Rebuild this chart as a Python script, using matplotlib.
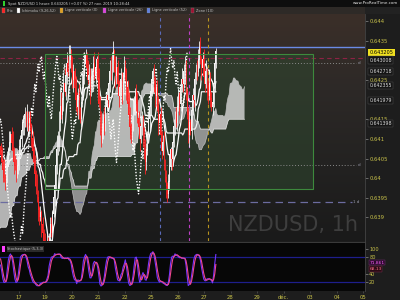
import numpy as np
import matplotlib
matplotlib.use('Agg')
import matplotlib.pyplot as plt
import matplotlib.transforms as mtransforms
from matplotlib.patches import Rectangle
from matplotlib.colors import LinearSegmentedColormap
from matplotlib import font_manager

# ---------------- data (prices in pips above 0.6400) ----------------
BASE = 0.6400
PIP = 0.0001

pre_close = [-30, -28, -32, -34, -31, -33, -35, -32, -29, -31,
             -27, -24, -26, -22, -19, -21, -17, -14, -16, -12,
             -9, -11, -8, -10, -7, -5, -8, -6, -3, -5,
             -2, -4, -1, 1, -1, 2, 4, 1, 3, 5,
             7, 4, 2, 5, 8, 6, 3, 1, 4, 6,
             9, 7, 10, 8, 5, 3, 6, 9, 11, 8,
             6, 9, 12, 10, 7, 5, 8, 6, 3, 5,
             7, 4, 2, 5, 7, 9, 6, 8]

close = [6, 4, 2, 0, -1,
         2, 5, 7, 9, 11,
         9, 7, 4, 3, 1,
         3, 5, 8, 10, 12, 14, 15, 16,
         15, 16, 14, 15, 13, 10, 7, 4, 1, -2,
         -5, -8, -10, -9, -12, -14, -16, -18, -20,
         -17, -19, -15, -12, -14, -9, -5, -2, 3, 7, 10, 14, 18, 16, 20, 24, 22, 26, 29, 27, 30, 31,
         28, 25, 27, 23, 20, 18, 21, 17, 15,
         19, 23, 26, 29, 31,
         28, 25, 26, 22,
         24, 27, 29, 26, 28, 30,
         25, 19, 14, 10,
         12, 15, 14, 18, 21, 20, 24, 27, 26, 30, 32,
         29, 26, 28, 24, 21, 23, 25, 22, 26, 28, 27,
         23, 19, 16, 13, 11,
         14, 17, 19, 22,
         19, 15, 13, 10,
         13, 15,
         11, 7, 4,
         7, 11, 15, 18, 22, 25, 27,
         24, 21, 23, 18, 14, 16, 11, 7, 9, 4, 0, -2, -4,
         -1, 3, 7, 5, 9, 13, 16, 14, 18, 21, 19, 23, 25, 24, 27, 28,
         22, 16, 11, 14, 12,
         17, 21, 20, 25, 28, 27, 30, 33,
         30, 28, 30, 26, 24, 27, 23, 21, 24, 20, 18, 19,
         24, 29, 32.1]

upper_wick = [1, 2, 1, 3, 1, 2, 2, 1, 3, 1,
              2, 3, 1, 2, 2, 4, 1, 2, 1, 3,
              2, 1, 2, 1, 3, 1, 2, 2, 1, 2,
              1, 2, 1, 3, 2, 1, 2, 1, 2, 1,
              2, 1, 3, 2, 1, 2, 2, 1, 3, 2,
              3, 4, 2, 3, 5, 4, 2, 3, 4, 2,
              3, 2, 4, 3, 2, 3, 2, 1, 3, 2,
              2, 3, 1, 2, 4, 2, 3, 2, 1, 2,
              3, 2, 4, 1, 2, 3, 2, 1, 2, 3,
              2, 3, 2, 1, 3, 2, 2, 3, 2, 3,
              4, 2, 3, 1, 2, 3, 2, 1, 2, 3,
              2, 1, 3, 2, 1, 2, 3, 2, 1, 2,
              3, 2, 1, 2, 3, 2, 1, 3, 2, 1,
              2, 3, 2, 1, 2, 3, 1, 2, 1, 2,
              2, 1, 2, 3, 1, 2, 1, 2, 3, 1,
              2, 1, 2, 3, 1, 2, 3, 2, 1, 2,
              3, 2, 1, 2, 3, 1, 2, 3, 2, 1,
              2, 3, 1, 2, 2, 3, 2, 1, 2, 3,
              2, 3, 1, 2, 3, 2, 3, 1, 2, 2,
              3, 2, 3, 2, 1, 1]

lower_wick = [2, 1, 3, 1, 2, 1, 3, 2, 1, 2,
              1, 2, 3, 1, 2, 1, 2, 3, 1, 2,
              1, 3, 2, 2, 3, 2, 3, 1, 2, 3,
              2, 3, 2, 1, 3, 2, 1, 3, 2, 3,
              2, 3, 2, 1, 3, 2, 1, 2, 1, 2,
              1, 2, 1, 3, 2, 1, 2, 3, 1, 2,
              2, 1, 3, 2, 1, 2, 3, 2, 3, 2,
              3, 2, 1, 2, 1, 3, 2, 1, 2, 1,
              2, 3, 1, 2, 3, 1, 2, 3, 2, 1,
              3, 2, 1, 2, 3, 2, 1, 2, 1, 2,
              1, 2, 3, 2, 3, 2, 1, 3, 2, 1,
              3, 2, 1, 2, 3, 1, 2, 3, 2, 1,
              2, 1, 3, 2, 1, 2, 3, 1, 2, 3,
              2, 3, 2, 1, 2, 3, 2, 1, 3, 2,
              3, 2, 1, 3, 2, 3, 2, 1, 2, 1,
              3, 2, 1, 2, 1, 3, 2, 1, 2, 1,
              2, 1, 3, 2, 1, 2, 1, 3, 2, 1,
              2, 3, 1, 2, 1, 2, 3, 1, 2, 1,
              2, 1, 3, 2, 1, 2, 1, 3, 2, 1,
              2, 1, 2, 1, 2, 1]

day_labels = ['17', '19', '20', '21', '22', '25', '26', '27', '28', '29',
              'déc.', '03', '04', '05']
first_day_bar = 16.3
bars_per_day = 24

price_ticks = [0.639, 0.6395, 0.64, 0.6405, 0.641, 0.6415, 0.6425, 0.6435, 0.644]
price_tick_labels = ['0.639', '0.6395', '0.64', '0.6405', '0.641', '0.6415',
                     '0.6425', '0.6435', '0.644']
current_price = 0.643205
value_boxes = [0.643008, 0.642718, 0.642355, 0.641979, 0.641398]

stoch_ticks = [20, 40, 80, 100]
stoch_boxes = [71.861, 68.13]

blue_line = 0.64334
red_dash_line = 0.64306
grey_dot_lines = [0.64293, 0.64033]
blue_dash_line = 0.63939
zone_bars = (40.0, 282.6)
zone_prices = (0.63972, 0.64316)
vline_bars = [144, 171, 187.5]

header_title = 'Spot NZD/USD 1 heure 0.643205 (+0.07 %) 27 nov. 2019 10:28:44'
legend_names = ['Prix', 'Ichimoku (9,26,52)', 'Ligne verticale (X)', 'Ligne verticale (26)',
                'Ligne verticale (52)', 'Zone (1X)']

# ---------------- fonts ----------------
def has_font(name):
    try:
        font_manager.findfont(name, fallback_to_default=False)
        return True
    except Exception:
        return False

NARROW = has_font('Liberation Sans Narrow')
small_family = ['Liberation Sans Narrow', 'DejaVu Sans'] if NARROW else ['DejaVu Sans']
small_scale = 1.0 if NARROW else 0.8
wm_family = ['Liberation Sans Narrow'] if NARROW else ['DejaVu Sans']
wm_size = 19 if NARROW else 15

# ---------------- derived series ----------------
allc = np.array(pre_close + close, dtype=float)
n_pre = len(pre_close)
allo = np.concatenate([[allc[0]], allc[:-1]])
uw = np.concatenate([np.zeros(n_pre), np.array(upper_wick, float)])
lw_ = np.concatenate([np.zeros(n_pre), np.array(lower_wick, float)])
allh = np.maximum(allo, allc) + uw
alll = np.minimum(allo, allc) - lw_
idx = np.arange(len(allc)) - n_pre


def p(v):
    return BASE + np.asarray(v) * PIP


def roll_mid(h, l, n):
    out = np.full(len(h), np.nan)
    for k in range(n - 1, len(h)):
        out[k] = (h[k - n + 1:k + 1].max() + l[k - n + 1:k + 1].min()) / 2
    return out


tenkan = roll_mid(allh, alll, 9)
kijun = roll_mid(allh, alll, 26)
spanA = (tenkan + kijun) / 2
spanB = roll_mid(allh, alll, 52)
shift_idx = idx + 26

K_raw = np.full(len(allc), np.nan)
for k in range(4, len(allc)):
    hh = allh[k - 4:k + 1].max(); ll = alll[k - 4:k + 1].min()
    K_raw[k] = 100 * (allc[k] - ll) / (hh - ll) if hh > ll else 50


def sma(a, n):
    out = np.full(len(a), np.nan)
    for k in range(n - 1, len(a)):
        out[k] = np.mean(a[k - n + 1:k + 1])
    return out


K = sma(K_raw, 3)
D = sma(K, 3)

# ---------------- figure ----------------
W, H = 400, 300
fig = plt.figure(figsize=(4, 3), dpi=100, facecolor='#1d1d1d')


def fy(px):
    return 1 - px / H


fig.patches.append(Rectangle((0, fy(7)), 1, 7 / H, transform=fig.transFigure,
                             facecolor='#0e0e0e', edgecolor='none', zorder=0))
fig.patches.append(Rectangle((0, fy(14)), 1, 7 / H, transform=fig.transFigure,
                             facecolor='#2e2a27', edgecolor='none', zorder=0))
fig.patches.append(Rectangle((365 / W, fy(14)), 35 / W, 7 / H, transform=fig.transFigure,
                             facecolor='#222222', edgecolor='none', zorder=0))
fig.patches.append(Rectangle((3 / W, fy(6)), 2 / W, 5 / H, transform=fig.transFigure,
                             facecolor='#30d030', edgecolor='none', zorder=1))
fig.text(8 / W, fy(3.5), header_title, fontsize=3.3 * small_scale, family=small_family,
         color='#d4d4d4', va='center', ha='left')
fig.text(398 / W, fy(3.5), 'www.ProRealTime.com', fontsize=3.6 * small_scale,
         family=small_family, color='#e6e6e6', va='center', ha='right')

legend_cols = ['#ff2020', '#ffffff', '#e0a020', '#e040e0', '#6080e0', '#a01030']
legend_x = [2, 17, 60, 103, 147, 191]
for txt, col, x0 in zip(legend_names, legend_cols, legend_x):
    fig.patches.append(Rectangle((x0 / W, fy(13)), 3 / W, 5 / H, transform=fig.transFigure,
                                 facecolor=col, edgecolor='#888888', linewidth=0.2, zorder=1))
    fig.text((x0 + 5) / W, fy(10.5), txt, fontsize=3.2 * small_scale, family=small_family,
             color='#c4c4c4', va='center', ha='left')

# ---------------- main axes ----------------
ax = fig.add_axes([0, fy(241), 365 / W, (241 - 14) / H])
x_left, x_right = -0.5, 330.1
ylo, yhi = 0.63840, 0.64418
ax.set_xlim(x_left, x_right)
ax.set_ylim(ylo, yhi)

grad = np.linspace(0, 1, 256)[:, None]
bg_cmap = LinearSegmentedColormap.from_list('bg', ['#1a1a1a', '#232221', '#2d2927', '#3b2f29'])
ax.imshow(grad, extent=[x_left, x_right, ylo, yhi], origin='lower', aspect='auto',
          cmap=bg_cmap, zorder=0)

ax.add_patch(Rectangle((zone_bars[0], zone_prices[0]), zone_bars[1] - zone_bars[0],
                       zone_prices[1] - zone_prices[0], facecolor='#2f4a2f', alpha=0.5,
                       edgecolor='none', zorder=1))
ax.add_patch(Rectangle((zone_bars[0], zone_prices[0]), zone_bars[1] - zone_bars[0],
                       zone_prices[1] - zone_prices[0], facecolor='none',
                       edgecolor='#3d8a3d', linewidth=0.8, zorder=6))

ax.text(358 / 365, (241 - 231) / 227, 'NZDUSD, 1h', transform=ax.transAxes,
        fontsize=wm_size, family=wm_family, color='#3e3e3e', ha='right', va='baseline',
        zorder=1)

# cloud
sA = p(spanA); sB = p(spanB)
ok = ~np.isnan(sA) & ~np.isnan(sB)
ax.fill_between(shift_idx[ok], sA[ok], sB[ok], where=(sA[ok] >= sB[ok]),
                color='#cfcfcf', alpha=0.85, linewidth=0, zorder=2, interpolate=True)
ax.fill_between(shift_idx[ok], sA[ok], sB[ok], where=(sA[ok] < sB[ok]),
                color='#a4a4a4', alpha=0.85, linewidth=0, zorder=2, interpolate=True)
ax.plot(shift_idx, sA, color='#bdbdbd', lw=0.5, zorder=3)
ax.plot(shift_idx, sB, color='#e8e8e8', lw=0.5, zorder=3)

ax.axhline(blue_line, color='#6a8ae6', lw=1.0, zorder=4)
ax.axhline(red_dash_line, color='#8e2244', lw=0.8, dashes=(4, 3), zorder=4)
for gl in grey_dot_lines:
    ax.plot([x_left, 322], [gl, gl], color='#8a8a8a', lw=0.7, dashes=(1, 2), zorder=4)
    ax.text(323.5, gl, 'd', fontsize=3, color='#9a9aaa', va='center', ha='left', zorder=6)
ax.plot([x_left, 318], [blue_dash_line] * 2, color='#6c6ca0', lw=0.9, dashes=(6, 4), zorder=4)
ax.text(319.5, blue_dash_line, '1 d', fontsize=3, color='#9a9aaa', va='center', ha='left',
        zorder=6)

for xb, col in zip(vline_bars, ['#5a6ab8', '#c040c8', '#b89420']):
    ax.axvline(xb, color=col, lw=0.8, dashes=(3, 3), zorder=4)

ax.plot(idx, p(tenkan), color='#ffffff', lw=0.9, zorder=5)
ax.plot(idx, p(kijun), color='#f0f0f0', lw=0.9, zorder=5)
ax.plot(idx - 26, p(allc), color='#ffffff', lw=1.0, dashes=(1, 1.2), zorder=5)

vis = idx >= 0
vi = idx[vis]; vo = allo[vis]; vc = allc[vis]; vh = allh[vis]; vl = alll[vis]
up = vc >= vo
cols = np.where(up, '#f2f2f2', '#ff2424')
ax.vlines(vi, p(vl), p(vh), colors=cols, lw=0.6, zorder=5)
ax.bar(vi, p(np.abs(vc - vo) + 0.3) - BASE, bottom=p(np.minimum(vo, vc)), width=0.75,
       color=cols, linewidth=0, zorder=5)

for s in ax.spines.values():
    s.set_visible(False)
ax.set_xticks([])
ax.yaxis.tick_right()
ax.set_yticks(price_ticks)
ax.set_yticklabels(price_tick_labels)
ax.tick_params(axis='y', colors='#8a8a8a', labelcolor='#c9c24a', labelsize=3.8,
               length=2, width=0.5, pad=1)

trans = mtransforms.blended_transform_factory(ax.transAxes, ax.transData)
ax.text(1.012, current_price, '%.6f' % current_price, transform=trans, fontsize=3.6,
        color='#000000', va='center', ha='left', zorder=10, clip_on=False,
        bbox=dict(boxstyle='square,pad=0.25', facecolor='#f0e020', edgecolor='none'))
for vb in value_boxes:
    ax.text(1.012, vb, '%.6f' % vb, transform=trans, fontsize=3.4, color='#d8d8d8',
            va='center', ha='left', zorder=10, clip_on=False,
            bbox=dict(boxstyle='square,pad=0.25', facecolor='#151515', edgecolor='#555555',
                      linewidth=0.3))

# ---------------- stochastic axes ----------------
ax2 = fig.add_axes([0, fy(291), 365 / W, (291 - 242) / H], facecolor='#070707')
ax2.set_xlim(x_left, x_right)
ax2.set_ylim(-2, 117)
ax2.axhline(80, color='#1e1e8c', lw=0.9)
ax2.axhline(20, color='#1e1e8c', lw=0.9)
ax2.plot(vi, K[vis], color='#7436ff', lw=0.8)
ax2.plot(vi, D[vis], color='#f0468e', lw=0.8)
for s in ax2.spines.values():
    s.set_visible(False)
ax2.spines['top'].set_visible(True)
ax2.spines['top'].set_color('#444444')
ax2.spines['top'].set_linewidth(0.6)
ax2.yaxis.tick_right()
ax2.set_yticks(stoch_ticks)
ax2.set_yticklabels([str(t) for t in stoch_ticks])
ax2.tick_params(axis='y', colors='#8a8a8a', labelcolor='#c9c24a', labelsize=3.6,
                length=2, width=0.5, pad=1)
day_pos = [first_day_bar + bars_per_day * k for k in range(len(day_labels))]
ax2.set_xticks(day_pos)
ax2.set_xticklabels(day_labels)
ax2.tick_params(axis='x', colors='#555555', labelcolor='#c9c24a', labelsize=3.8,
                length=1.5, width=0.5, pad=1.5)

trans2 = mtransforms.blended_transform_factory(ax2.transAxes, ax2.transData)
ax2.annotate('%.3f' % stoch_boxes[0], xy=(1.012, stoch_boxes[0]), xycoords=trans2,
             xytext=(0, -1.5), textcoords='offset points', fontsize=3.2, color='#ff60ff',
             va='center', ha='left', annotation_clip=False, zorder=10,
             bbox=dict(boxstyle='square,pad=0.15', facecolor='#2a0a2a', edgecolor='#803080',
                       linewidth=0.3))
ax2.annotate('%.2f' % stoch_boxes[1], xy=(1.012, stoch_boxes[1]), xycoords=trans2,
             xytext=(0, -5.0), textcoords='offset points', fontsize=3.2, color='#ff7090',
             va='center', ha='left', annotation_clip=False, zorder=10,
             bbox=dict(boxstyle='square,pad=0.15', facecolor='#2a0a14', edgecolor='#803050',
                       linewidth=0.3))
ax2.add_patch(Rectangle((0.005, 0.80), 0.01, 0.12, transform=ax2.transAxes,
                        facecolor='#ff40ff', edgecolor='none'))
ax2.text(0.02, 0.86, 'Stochastique (5,3,3)', transform=ax2.transAxes,
         fontsize=3.2 * small_scale, family=small_family, color='#c8c8c8', va='center',
         ha='left', bbox=dict(boxstyle='square,pad=0.2', facecolor='#2a2a2a', edgecolor='none'))

fig.add_artist(plt.Line2D([365 / W, 365 / W], [fy(291), fy(14)], color='#444444', lw=0.6,
                          transform=fig.transFigure))

fig.savefig('out.png', dpi=100, facecolor=fig.get_facecolor())
